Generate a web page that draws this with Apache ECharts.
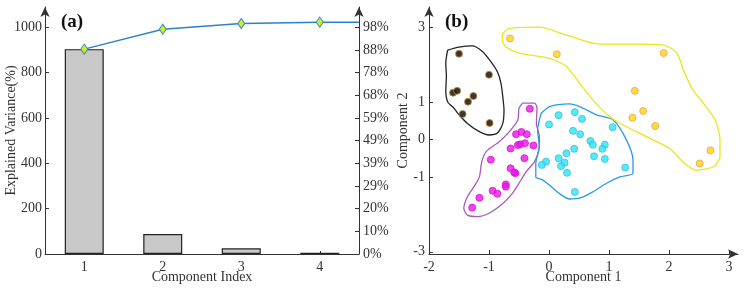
<!DOCTYPE html>
<html>
<head>
<meta charset="utf-8">
<script src="https://cdn.jsdelivr.net/npm/echarts@6/dist/echarts.min.js"></script>
<style>
  html, body { margin: 0; padding: 0; background: #fff; }
  #chart { width: 750px; height: 288px; }
</style>
</head>
<body>
<div id="chart"></div>
<script>
// (a) pareto data
const componentIdx = [1, 2, 3, 4];
const varianceVals = [904, 88, 25, 6];
const leftTicks = [0, 200, 400, 600, 800, 1000];
const pctTicks = [0, 100, 200, 300, 400, 500, 600, 700, 800, 900, 1000];

// (b) scores
const xTicksB = [-2, -1, 0, 1, 2, 3];
const yTicksB = [-3, -1, 0, 1, 3];
const blackPts = [[-1.50, 2.29], [-1.00, 1.73], [-1.60, 1.25], [-1.53, 1.30], [-1.26, 1.16],
  [-1.35, 1.01], [-1.44, 0.68], [-0.99, 0.44]];
const magentaPts = [[-0.32, 0.82], [-0.55, 0.14], [-0.46, 0.20], [-0.37, 0.14], [-0.64, -0.24],
  [-0.52, -0.15], [-0.48, -0.13], [-0.40, -0.10], [-0.26, -0.16], [-0.97, -0.54], [-0.41, -0.50],
  [-0.64, -0.77], [-0.56, -0.90], [-0.58, -0.88], [-0.72, -1.20], [-0.72, -1.26], [-0.94, -1.37],
  [-0.86, -1.45], [-1.16, -1.56], [-1.28, -1.82]];
const cyanPts = [[0.16, 0.65], [0.43, 0.73], [0.55, 0.55], [0.00, 0.40], [0.40, 0.23], [0.52, 0.14],
  [1.06, 0.33], [0.69, -0.04], [0.73, -0.14], [0.93, -0.14], [0.89, -0.25], [0.42, -0.25],
  [0.29, -0.37], [0.16, -0.50], [0.75, -0.45], [0.93, -0.52], [0.26, -0.62], [0.20, -0.71],
  [-0.05, -0.59], [-0.12, -0.68], [0.30, -0.89], [1.27, -0.75], [0.43, -1.40]];
const yellowPts = [[-0.65, 2.70], [0.13, 2.28], [1.91, 2.31], [1.43, 1.30], [1.57, 0.76],
  [1.39, 0.58], [1.77, 0.36], [2.69, -0.29], [2.51, -0.64]];

// cluster outlines (data units)
const blackHull = [[-1.69, 2.39], [-1.50, 2.47], [-1.28, 2.50], [-1.11, 2.35], [-0.97, 2.08],
  [-0.86, 1.81], [-0.80, 1.50], [-0.77, 1.14], [-0.75, 0.79], [-0.77, 0.43], [-0.86, 0.17],
  [-1.00, 0.12], [-1.16, 0.21], [-1.36, 0.43], [-1.50, 0.66], [-1.58, 0.83], [-1.69, 1.01],
  [-1.72, 1.32], [-1.71, 1.68], [-1.72, 2.04]];
const magentaHull = [[-0.44, 0.97], [-0.24, 0.97], [-0.20, 0.83], [-0.21, 0.43], [-0.16, 0.08],
  [-0.17, -0.28], [-0.24, -0.59], [-0.38, -0.86], [-0.50, -1.17], [-0.61, -1.44], [-0.77, -1.71],
  [-1.00, -1.97], [-1.19, -2.06], [-1.36, -2.02], [-1.42, -1.84], [-1.36, -1.53], [-1.25, -1.26],
  [-1.16, -1.00], [-1.12, -0.59], [-1.05, -0.33], [-0.83, -0.06], [-0.66, 0.21], [-0.52, 0.52],
  [-0.50, 0.83]];
const cyanHull = [[-0.13, 0.70], [0.01, 0.88], [0.34, 0.95], [0.51, 0.88], [0.79, 0.66], [1.07, 0.52],
  [1.29, -0.01], [1.40, -0.55], [1.40, -0.90], [1.18, -1.00], [0.96, -1.17], [0.73, -1.40],
  [0.51, -1.57], [0.34, -1.59], [0.17, -1.44], [0.01, -1.22], [-0.11, -1.08], [-0.22, -1.00],
  [-0.22, -0.64], [-0.16, -0.19], [-0.19, 0.25]];
const yellowHull = [[-0.77, 2.84], [-0.66, 2.97], [-0.16, 3.00], [0.29, 2.79], [0.84, 2.55],
  [1.40, 2.55], [1.90, 2.53], [2.13, 2.31], [2.24, 1.86], [2.38, 1.37], [2.57, 0.97], [2.77, 0.52],
  [2.85, -0.01], [2.85, -0.46], [2.74, -0.73], [2.46, -0.82], [2.26, -0.64], [2.01, -0.24],
  [1.68, 0.03], [1.29, 0.34], [1.01, 0.61], [0.73, 1.06], [0.51, 1.50], [0.29, 1.95], [0.01, 2.17],
  [-0.50, 2.31], [-0.72, 2.48], [-0.78, 2.66]];

const total = varianceVals.reduce((a, b) => a + b, 0);
let run = 0;
const cumVals = varianceVals.map((v) => (run += v));

const serif = 'Liberation Serif';
const axisColor = '#333';
const arrowLine = {
  show: true,
  onZero: false,
  symbol: ['none', 'arrow'],
  symbolSize: [7, 10],
  lineStyle: { color: axisColor, width: 1 }
};
const txt = { color: '#333', fontFamily: serif, fontSize: 14 };

function closed(arr) {
  return arr.concat([arr[0]]);
}

function hullSeries(arr, color) {
  return {
    type: 'line',
    xAxisIndex: 2,
    yAxisIndex: 2,
    data: closed(arr),
    smooth: 0.25,
    symbol: 'none',
    silent: true,
    z: 1,
    lineStyle: { color: color, width: 1.3 }
  };
}

function dotSeries(arr, fill, border) {
  return {
    type: 'scatter',
    xAxisIndex: 2,
    yAxisIndex: 2,
    data: arr,
    symbolSize: 7,
    z: 3,
    itemStyle: { color: fill, borderColor: border, borderWidth: 1 }
  };
}

const chart = echarts.init(document.getElementById('chart'));
chart.setOption({
  animation: false,
  textStyle: { fontFamily: serif },
  grid: [
    { left: 45, width: 314, top: 7, bottom: 34, outerBoundsMode: 'none', containLabel: false },
    { left: 429, right: 12, top: 7, bottom: 34, outerBoundsMode: 'none', containLabel: false }
  ],
  title: [
    { text: '(a)', left: 56, top: 8, textStyle: { fontFamily: serif, fontSize: 19, fontWeight: 'bold', color: '#111' } },
    { text: '(b)', left: 440, top: 8, textStyle: { fontFamily: serif, fontSize: 19, fontWeight: 'bold', color: '#111' } }
  ],
  xAxis: [
    {
      gridIndex: 0,
      type: 'value',
      min: 0.5,
      max: 4.5,
      name: 'Component Index',
      nameLocation: 'middle',
      nameGap: 16,
      nameMoveOverlap: false,
      nameTextStyle: txt,
      axisLine: { show: true, onZero: false, lineStyle: { color: axisColor } },
      axisTick: { show: true, inside: true, length: 3, customValues: componentIdx },
      axisLabel: { ...txt, margin: 6, customValues: componentIdx },
      splitLine: { show: false }
    },
    {
      gridIndex: 0,
      type: 'value',
      min: 0.5,
      max: 4.5,
      show: false
    },
    {
      gridIndex: 1,
      type: 'value',
      min: -2,
      max: 3.15,
      name: 'Component 1',
      nameLocation: 'middle',
      nameGap: 16,
      nameMoveOverlap: false,
      nameTextStyle: txt,
      axisLine: arrowLine,
      axisTick: { show: true, inside: true, length: 4, customValues: xTicksB },
      axisLabel: { ...txt, margin: 6, customValues: xTicksB },
      splitLine: { show: false }
    }
  ],
  yAxis: [
    {
      gridIndex: 0,
      type: 'value',
      min: 0,
      max: 1090,
      name: 'Explained Variance(%)',
      nameLocation: 'middle',
      nameGap: 27,
      nameMoveOverlap: false,
      nameTextStyle: txt,
      axisLine: arrowLine,
      axisTick: { show: true, inside: true, length: 4, customValues: leftTicks },
      axisLabel: { ...txt, margin: 3, customValues: leftTicks, formatter: (v) => String(v) },
      splitLine: { show: false }
    },
    {
      gridIndex: 0,
      type: 'value',
      position: 'right',
      min: 0,
      max: 1090,
      axisLine: arrowLine,
      axisTick: { show: true, inside: true, length: 4, customValues: pctTicks },
      axisLabel: {
        ...txt,
        margin: 4,
        customValues: pctTicks,
        formatter: (v) => Math.round((v / total) * 100) + '%'
      },
      splitLine: { show: false }
    },
    {
      gridIndex: 1,
      type: 'value',
      min: -3.06,
      max: 3.54,
      name: 'Component 2',
      nameLocation: 'middle',
      nameGap: 19,
      nameMoveOverlap: false,
      nameTextStyle: txt,
      axisLine: arrowLine,
      axisTick: { show: true, inside: true, length: 4, customValues: yTicksB },
      axisLabel: { ...txt, margin: 4, customValues: yTicksB },
      splitLine: { show: false }
    }
  ],
  series: [
    {
      type: 'bar',
      xAxisIndex: 0,
      yAxisIndex: 0,
      barWidth: 39,
      data: componentIdx.map((c, i) => [c, varianceVals[i]]),
      itemStyle: { color: '#c8c8c8', borderColor: '#222', borderWidth: 1.2 }
    },
    {
      type: 'line',
      xAxisIndex: 1,
      yAxisIndex: 0,
      symbol: 'diamond',
      symbolSize: [7, 10],
      z: 4,
      lineStyle: { color: '#2b82c9', width: 1.4 },
      itemStyle: { color: '#d9ea1c', borderColor: '#2b8fd6', borderWidth: 1 },
      data: componentIdx
        .map((c, i) => [c, cumVals[i]])
        .concat([{ value: [4.5, total], symbol: 'none' }])
    },
    hullSeries(blackHull, '#222222'),
    hullSeries(magentaHull, '#a85cb4'),
    hullSeries(cyanHull, '#2a9be0'),
    hullSeries(yellowHull, '#f2e21a'),
    dotSeries(blackPts, '#050505', '#c8902a'),
    dotSeries(magentaPts, '#ea16e6', '#d810d4'),
    dotSeries(cyanPts, '#2ae6f2', '#3fb8e8'),
    dotSeries(yellowPts, '#ffd21a', '#f0a048')
  ]
});
</script>
</body>
</html>
